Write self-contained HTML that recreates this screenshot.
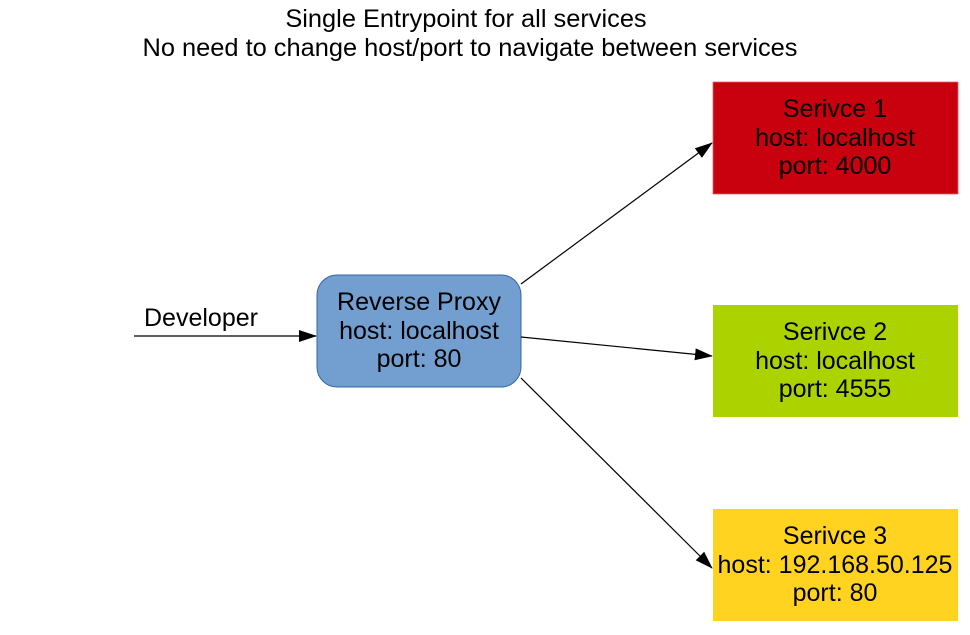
<!DOCTYPE html>
<html><head><style>
body{margin:0;width:970px;height:630px;background:#fff;overflow:hidden;font-family:"Liberation Sans",sans-serif;}
</style></head><body>
<svg width="970" height="630" xmlns="http://www.w3.org/2000/svg" font-family="Liberation Sans, sans-serif" font-size="25">
<defs><marker id="a" markerWidth="18" markerHeight="12" refX="17" refY="6" orient="auto" markerUnits="userSpaceOnUse"><path d="M0,0 L18,6 L0,12 z" fill="#000"/></marker></defs>
<text x="466" y="27" text-anchor="middle" font-size="25.4">Single Entrypoint for all services</text>
<text x="470" y="56" text-anchor="middle" font-size="25.4">No need to change host/port to navigate between services</text>
<text x="144" y="326" font-size="25">Developer</text>
<line x1="134" y1="336" x2="316" y2="336" stroke="#000" stroke-width="1.2" marker-end="url(#a)"/>
<rect x="317" y="275" width="204" height="112" rx="20" fill="#729fcf" stroke="#3465a4" stroke-width="1"/>
<text x="419" y="310" text-anchor="middle">Reverse Proxy</text>
<text x="419" y="339" text-anchor="middle">host: localhost</text>
<text x="419" y="367" text-anchor="middle">port: 80</text>
<line x1="521" y1="284" x2="712" y2="143" stroke="#000" stroke-width="1.2" marker-end="url(#a)"/>
<line x1="521" y1="337" x2="712" y2="356" stroke="#000" stroke-width="1.2" marker-end="url(#a)"/>
<line x1="521" y1="378" x2="712" y2="568" stroke="#000" stroke-width="1.2" marker-end="url(#a)"/>
<rect x="713" y="82" width="245" height="112" fill="#c9000e" stroke="#e86070" stroke-width="0.8"/>
<text x="835" y="117" text-anchor="middle">Serivce 1</text>
<text x="835" y="146" text-anchor="middle">host: localhost</text>
<text x="835" y="174" text-anchor="middle">port: 4000</text>
<rect x="713" y="305" width="245" height="112" fill="#acd300"/>
<text x="835" y="340" text-anchor="middle">Serivce 2</text>
<text x="835" y="369" text-anchor="middle">host: localhost</text>
<text x="835" y="397" text-anchor="middle">port: 4555</text>
<rect x="713" y="509" width="245" height="112" fill="#ffd320"/>
<text x="835" y="544" text-anchor="middle">Serivce 3</text>
<text x="835" y="573" text-anchor="middle">host: 192.168.50.125</text>
<text x="835" y="601" text-anchor="middle">port: 80</text>
</svg>
</body></html>
